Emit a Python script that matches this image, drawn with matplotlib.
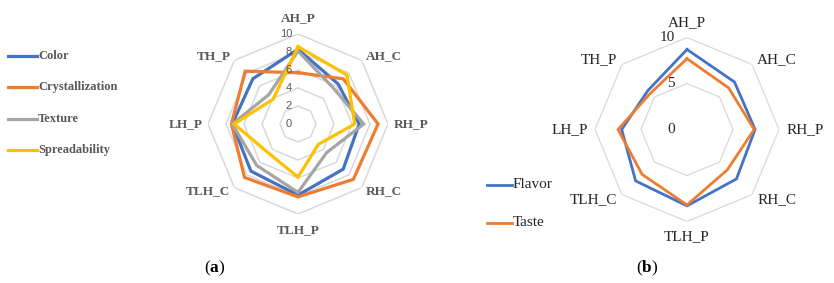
import numpy as np
import matplotlib
matplotlib.use("Agg")
import matplotlib.pyplot as plt

plt.rcParams["font.family"] = ["Liberation Serif", "DejaVu Serif"]
plt.rcParams["mathtext.fontset"] = "custom"
plt.rcParams["mathtext.rm"] = "Liberation Serif"
plt.rcParams["mathtext.bf"] = "Liberation Serif:bold"

# axes go clockwise from the top
categories = ["AH_P", "AH_C", "RH_P", "RH_C", "TLH_P", "TLH_C", "LH_P", "TH_P"]

# panel (a)
color_vals = [8.3, 6.3, 6.8, 7.1, 7.9, 7.4, 7.3, 7.1]
cryst_vals = [5.7, 7.1, 8.9, 8.7, 8.1, 8.4, 7.4, 8.3]
texture_vals = [8.1, 5.6, 7.3, 4.5, 7.6, 6.5, 7.3, 4.6]
spread_vals = [8.6, 7.7, 6.3, 3.2, 5.9, 4.6, 7.1, 3.9]
a_series = ["Color", "Crystallization", "Texture", "Spreadability"]
a_ticks = [0, 2, 4, 6, 8, 10]

# panel (b)
flavor_vals = [8.7, 7.3, 7.4, 7.6, 8.3, 7.9, 7.1, 6.0]
taste_vals = [7.7, 6.4, 7.3, 6.2, 8.2, 6.9, 7.5, 5.6]
b_series = ["Flavor", "Taste"]
b_ticks = [0, 5, 10]

BLUE, ORANGE, GRAY, YELLOW = "#4472C4", "#ED7D31", "#A5A5A5", "#FFC000"

W, H = 834, 283
fig = plt.figure(figsize=(W / 100, H / 100), dpi=100)

n = len(categories)
theta = np.arange(n) * 2 * np.pi / n
theta_closed = np.append(theta, theta[0])


def make_ax(cx, cy, rad):
    # polar axes placed by its centre and radius in pixels
    ax = fig.add_axes([(cx - rad) / W, (H - cy - rad) / H, 2 * rad / W, 2 * rad / H],
                      projection="polar")
    ax.set_theta_zero_location("N")
    ax.set_theta_direction(-1)
    ax.set_ylim(0, 10)
    ax.grid(False)
    ax.spines["polar"].set_visible(False)
    ax.set_xticks([])
    ax.set_yticks([])
    ax.patch.set_alpha(0)
    return ax


def draw_rings(ax, ticks, color, lw):
    for t in ticks:
        if t == 0:
            continue
        ax.plot(theta_closed, [t] * (n + 1), color=color, lw=lw, zorder=1)


def draw_labels(ax, r_side, r_vert, fontsize, color, weight):
    for ang, lab in zip(theta, categories):
        s, c = np.sin(ang), np.cos(ang)
        if abs(s) < 0.1:
            ha, va, r = "center", ("bottom" if c > 0 else "top"), r_vert
        else:
            ha, va, r = ("left" if s > 0 else "right"), "center", r_side
        ax.text(ang, r, lab, ha=ha, va=va, fontsize=fontsize, color=color,
                fontweight=weight, clip_on=False)


# ---- panel (a)
ax1 = make_ax(298, 124, 90)
draw_rings(ax1, a_ticks, "#D9D9D9", 1.1)
for vals, col in zip([color_vals, cryst_vals, texture_vals, spread_vals],
                     [BLUE, ORANGE, GRAY, YELLOW]):
    ax1.plot(theta_closed, vals + vals[:1], color=col, lw=2.3, zorder=3,
             solid_joinstyle="miter")
draw_labels(ax1, 10.6, 11.1, 9.5, "#595959", "bold")
for t in a_ticks:
    fig.text((298 - 6) / W, (H - (124 - t * 9.0)) / H, str(t), fontsize=8,
             color="#595959", family="Liberation Sans", ha="right", va="center")

# ---- panel (b)
ax2 = make_ax(687, 129.5, 92)
draw_rings(ax2, b_ticks, "#D9D9D9", 0.9)
for vals, col in zip([flavor_vals, taste_vals], [BLUE, ORANGE]):
    ax2.plot(theta_closed, vals + vals[:1], color=col, lw=2.0, zorder=3,
             solid_joinstyle="miter")
draw_labels(ax2, 10.8, 10.9, 11, "#262626", "normal")
for t in b_ticks:
    fig.text((687 - 12) / W, (H - (129.5 - t * 9.2)) / H, str(t), fontsize=11,
             color="#262626", ha="right", va="center")

# ---- legends
for i, (name, col) in enumerate(zip(a_series, [BLUE, ORANGE, GRAY, YELLOW])):
    y = (H - (56 + i * 31.3)) / H
    fig.add_artist(plt.Line2D([8 / W, 37 / W], [y, y], color=col, lw=2.3))
    fig.text(38 / W, y, name, fontsize=9, fontweight="bold", color="#595959",
             ha="left", va="center")
for i, (name, col) in enumerate(zip(b_series, [BLUE, ORANGE])):
    y = (H - (185 + i * 38)) / H
    fig.add_artist(plt.Line2D([487 / W, 512 / W], [y, y], color=col, lw=2.0))
    fig.text(513 / W, y, name, fontsize=11, color="#262626", ha="left", va="center")

# ---- captions
fig.text(215 / W, (H - 268) / H, r"($\mathbf{a}$)", fontsize=12.5, ha="center",
         va="center", color="black")
fig.text(647 / W, (H - 268) / H, r"($\mathbf{b}$)", fontsize=12.5, ha="center",
         va="center", color="black")

fig.savefig("out.png", dpi=100, facecolor="white")
